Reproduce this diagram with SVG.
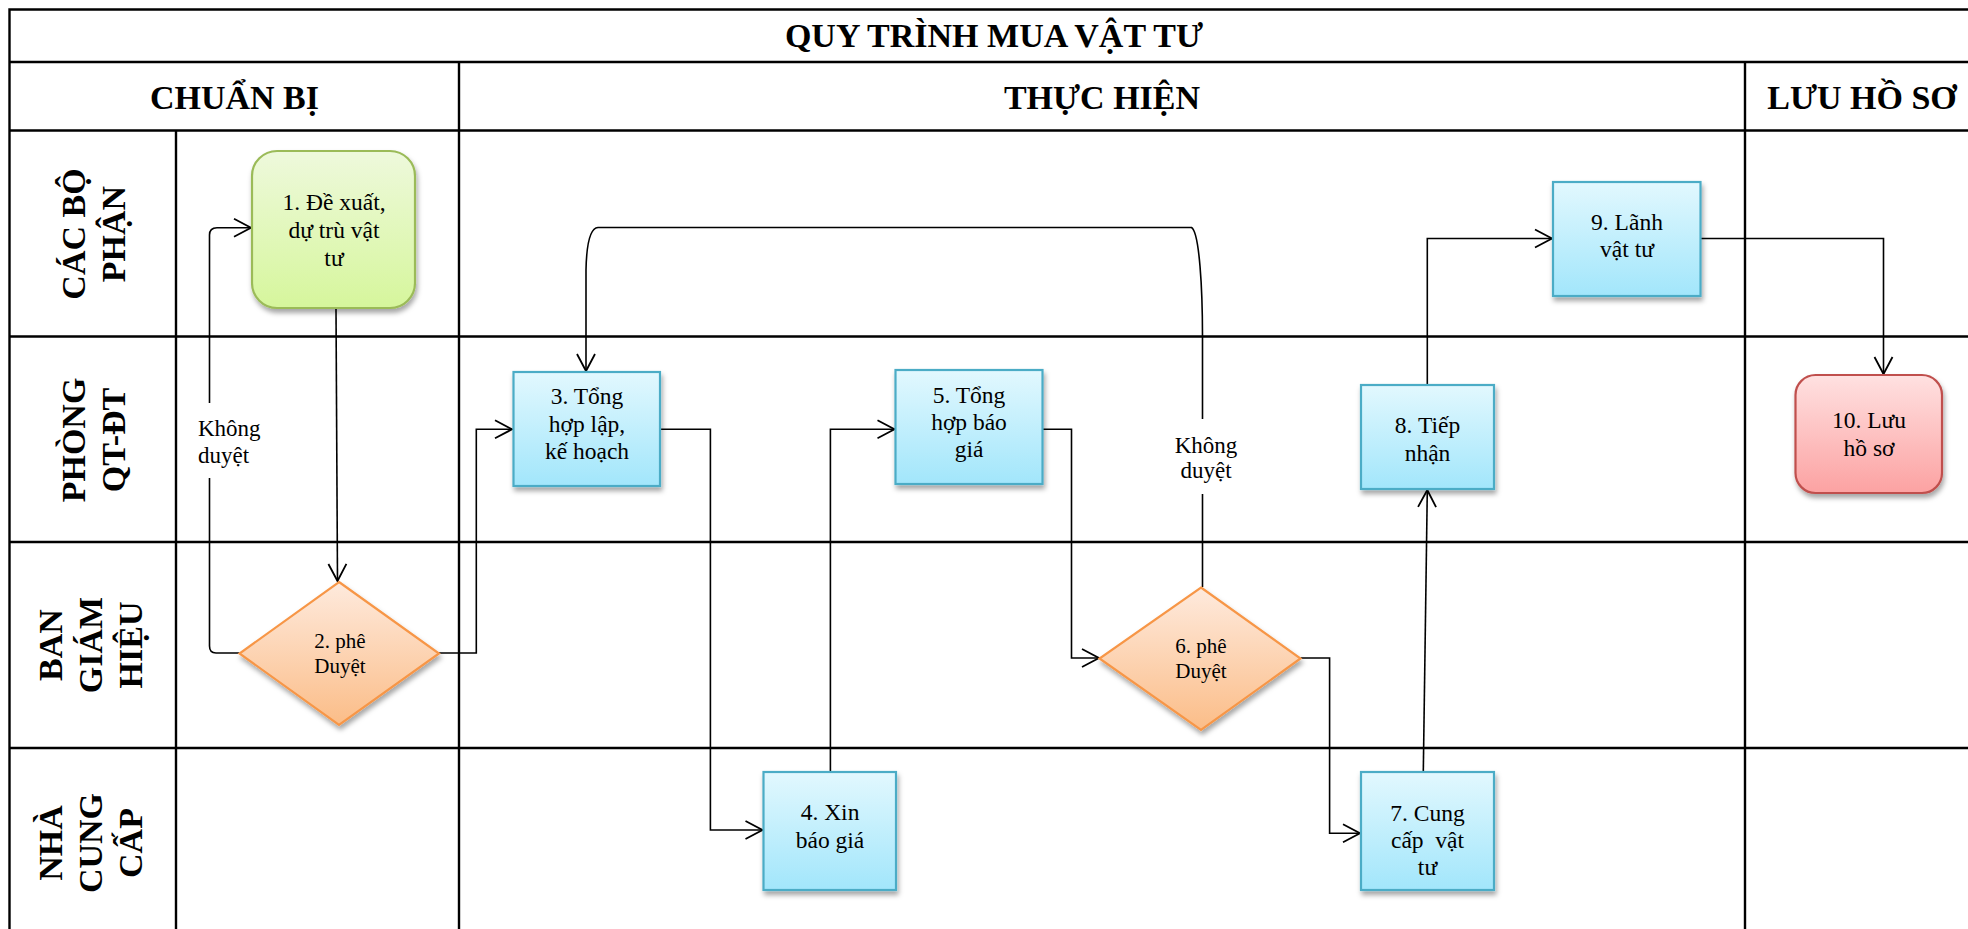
<svg xmlns="http://www.w3.org/2000/svg" width="1968" height="929" viewBox="0 0 1968 929">
<style>
.grid{stroke:#000;stroke-width:2.4;fill:none}
.hdr{font-family:"Liberation Serif","Times New Roman",serif;font-weight:bold;font-size:34px;fill:#000}
.t{font-family:"Liberation Serif","Times New Roman",serif;font-size:23.5px;fill:#000;text-anchor:middle}
.td{font-family:"Liberation Serif","Times New Roman",serif;font-size:21px;fill:#000;text-anchor:middle}
.lbl{font-family:"Liberation Serif","Times New Roman",serif;font-size:23px;fill:#000}
.con{stroke:#000;stroke-width:1.6;fill:none}
.arr{stroke:#000;stroke-width:1.6;fill:none;marker-end:url(#ah)}
.blue{fill:url(#gBlue);stroke:#4bacc6;stroke-width:2.2}
.green{fill:url(#gGreen);stroke:#9bbb59;stroke-width:2.2}
.orange{fill:url(#gOrange);stroke:#f79646;stroke-width:2.2}
.red{fill:url(#gRed);stroke:#c0504d;stroke-width:2.2}
</style>
<defs>
<linearGradient id="gBlue" x1="0" y1="0" x2="0" y2="1"><stop offset="0" stop-color="#e2f8fe"/><stop offset="1" stop-color="#a2e6fb"/></linearGradient>
<linearGradient id="gGreen" x1="0" y1="0" x2="0" y2="1"><stop offset="0" stop-color="#eef9dc"/><stop offset="1" stop-color="#d6f69c"/></linearGradient>
<linearGradient id="gOrange" x1="0" y1="0" x2="0" y2="1"><stop offset="0" stop-color="#feeadd"/><stop offset="1" stop-color="#fbbd88"/></linearGradient>
<linearGradient id="gRed" x1="0" y1="0" x2="0" y2="1"><stop offset="0" stop-color="#ffe1e1"/><stop offset="1" stop-color="#fca2a2"/></linearGradient>
<filter id="sh" x="-20%" y="-20%" width="140%" height="150%"><feDropShadow dx="1.5" dy="4" stdDeviation="2.5" flood-color="#000" flood-opacity="0.35"/></filter>
<marker id="ah" markerUnits="userSpaceOnUse" markerWidth="22" markerHeight="22" viewBox="-20 -11 22 22" refX="0" refY="0" orient="auto"><path d="M-17,-9 L0,0 L-17,9" fill="none" stroke="#000" stroke-width="1.8"/></marker>
</defs>
<rect width="1968" height="929" fill="#fff"/>
<g id="table">
<path class="grid" d="M9.5,940 L9.5,9.5 L1980,9.5 M9.5,62 L1980,62 M9.5,130.5 L1980,130.5 M9.5,336.5 L1980,336.5 M9.5,542 L1980,542 M9.5,748 L1980,748 M176,130.5 L176,940 M459,62 L459,940 M1745,62 L1745,940"/>
<text class="hdr" x="994" y="47" text-anchor="middle">QUY TRÌNH MUA VẬT TƯ</text>
<text class="hdr" x="234.5" y="109" text-anchor="middle">CHUẨN BỊ</text>
<text class="hdr" x="1102" y="109" text-anchor="middle">THỰC HIỆN</text>
<text class="hdr" x="1862" y="109" text-anchor="middle">LƯU HỒ SƠ</text>
<text class="hdr" transform="translate(0,234) rotate(-90)" text-anchor="middle"><tspan x="0" y="85">CÁC BỘ</tspan><tspan x="0" y="125">PHẬN</tspan></text>
<text class="hdr" transform="translate(0,440) rotate(-90)" text-anchor="middle"><tspan x="0" y="85">PHÒNG</tspan><tspan x="0" y="125">QT-ĐT</tspan></text>
<text class="hdr" transform="translate(0,645) rotate(-90)" text-anchor="middle"><tspan x="0" y="62">BAN</tspan><tspan x="0" y="102">GIÁM</tspan><tspan x="0" y="142">HIỆU</tspan></text>
<text class="hdr" transform="translate(0,843) rotate(-90)" text-anchor="middle"><tspan x="0" y="62">NHÀ</tspan><tspan x="0" y="102">CUNG</tspan><tspan x="0" y="142">CẤP</tspan></text>
</g>
<g id="connectors">
<path class="arr" d="M336,309 L337.5,581"/>
<path class="arr" d="M239.5,653 L216,653 Q209.5,653 209.5,646 L209.5,478 M209.5,403 L209.5,235 Q209.5,227.7 217,227.7 L251,227.7"/>
<path class="arr" d="M439,653 L476.3,653 L476.3,429.3 L512,429.3"/>
<path class="arr" d="M660,429.3 L710.4,429.3 L710.4,830 L762.5,830"/>
<path class="arr" d="M830.4,772 L830.4,429.3 L894.5,429.3"/>
<path class="arr" d="M1042.5,429.3 L1071.5,429.3 L1071.5,658 L1099,658"/>
<path class="arr" d="M1202.5,587 L1202.5,494 M1202.5,419 L1202.5,336 C1202.5,290 1199.5,232 1191.5,227.5 L598,227.5 C590,228 586.5,245 586,270 L586,371"/>
<path class="arr" d="M1300.5,658 L1329.6,658 L1329.6,833.3 L1360,833.3"/>
<path class="arr" d="M1423.3,771.5 L1427.3,490"/>
<path class="arr" d="M1427.3,385 L1427.3,238.5 L1552,238.5"/>
<path class="arr" d="M1700.5,238.5 L1883.5,238.5 L1883.5,374"/>
<text class="lbl" x="198" y="436">Không</text>
<text class="lbl" x="198" y="463">duyệt</text>
<text class="lbl" x="1206" y="453" text-anchor="middle">Không</text>
<text class="lbl" x="1206" y="478" text-anchor="middle">duyệt</text>
</g>
<g id="n1">
<rect class="green" x="252" y="151" width="163" height="157" rx="25" filter="url(#sh)"/>
<text class="t" x="334" y="210">1. Đề xuất,</text>
<text class="t" x="334" y="238">dự trù vật</text>
<text class="t" x="334" y="266">tư</text>
</g>
<g id="n2">
<polygon class="orange" points="339,582 439,653.5 339,725 239.5,653.5" filter="url(#sh)"/>
<text class="td" x="340" y="648">2. phê</text>
<text class="td" x="340" y="673">Duyệt</text>
</g>
<g id="n3">
<rect class="blue" x="513.5" y="372" width="146.5" height="114" filter="url(#sh)"/>
<text class="t" x="587" y="404">3. Tổng</text>
<text class="t" x="587" y="431.5">hợp lập,</text>
<text class="t" x="587" y="459">kế hoạch</text>
</g>
<g id="n4">
<rect class="blue" x="763.5" y="772" width="132.5" height="118" filter="url(#sh)"/>
<text class="t" x="830" y="820">4. Xin</text>
<text class="t" x="830" y="848">báo giá</text>
</g>
<g id="n5">
<rect class="blue" x="895.5" y="370" width="147" height="114" filter="url(#sh)"/>
<text class="t" x="969" y="402.5">5. Tổng</text>
<text class="t" x="969" y="429.5">hợp báo</text>
<text class="t" x="969" y="457">giá</text>
</g>
<g id="n6">
<polygon class="orange" points="1201,587.5 1300.5,658.5 1201,730 1099.5,658.5" filter="url(#sh)"/>
<text class="td" x="1201" y="653">6. phê</text>
<text class="td" x="1201" y="678">Duyệt</text>
</g>
<g id="n7">
<rect class="blue" x="1361" y="772" width="133" height="118" filter="url(#sh)"/>
<text class="t" x="1427.5" y="820.5">7. Cung</text>
<text class="t" x="1427.5" y="848" xml:space="preserve">cấp  vật</text>
<text class="t" x="1427.5" y="875">tư</text>
</g>
<g id="n8">
<rect class="blue" x="1361" y="385" width="133" height="104" filter="url(#sh)"/>
<text class="t" x="1427.5" y="433">8. Tiếp</text>
<text class="t" x="1427.5" y="461">nhận</text>
</g>
<g id="n9">
<rect class="blue" x="1553" y="182" width="147.5" height="114" filter="url(#sh)"/>
<text class="t" x="1627" y="230">9. Lãnh</text>
<text class="t" x="1627" y="257">vật tư</text>
</g>
<g id="n10">
<rect class="red" x="1795.5" y="375" width="146.5" height="118" rx="20" filter="url(#sh)"/>
<text class="t" x="1869" y="428">10. Lưu</text>
<text class="t" x="1869" y="456">hồ sơ</text>
</g>
</svg>
